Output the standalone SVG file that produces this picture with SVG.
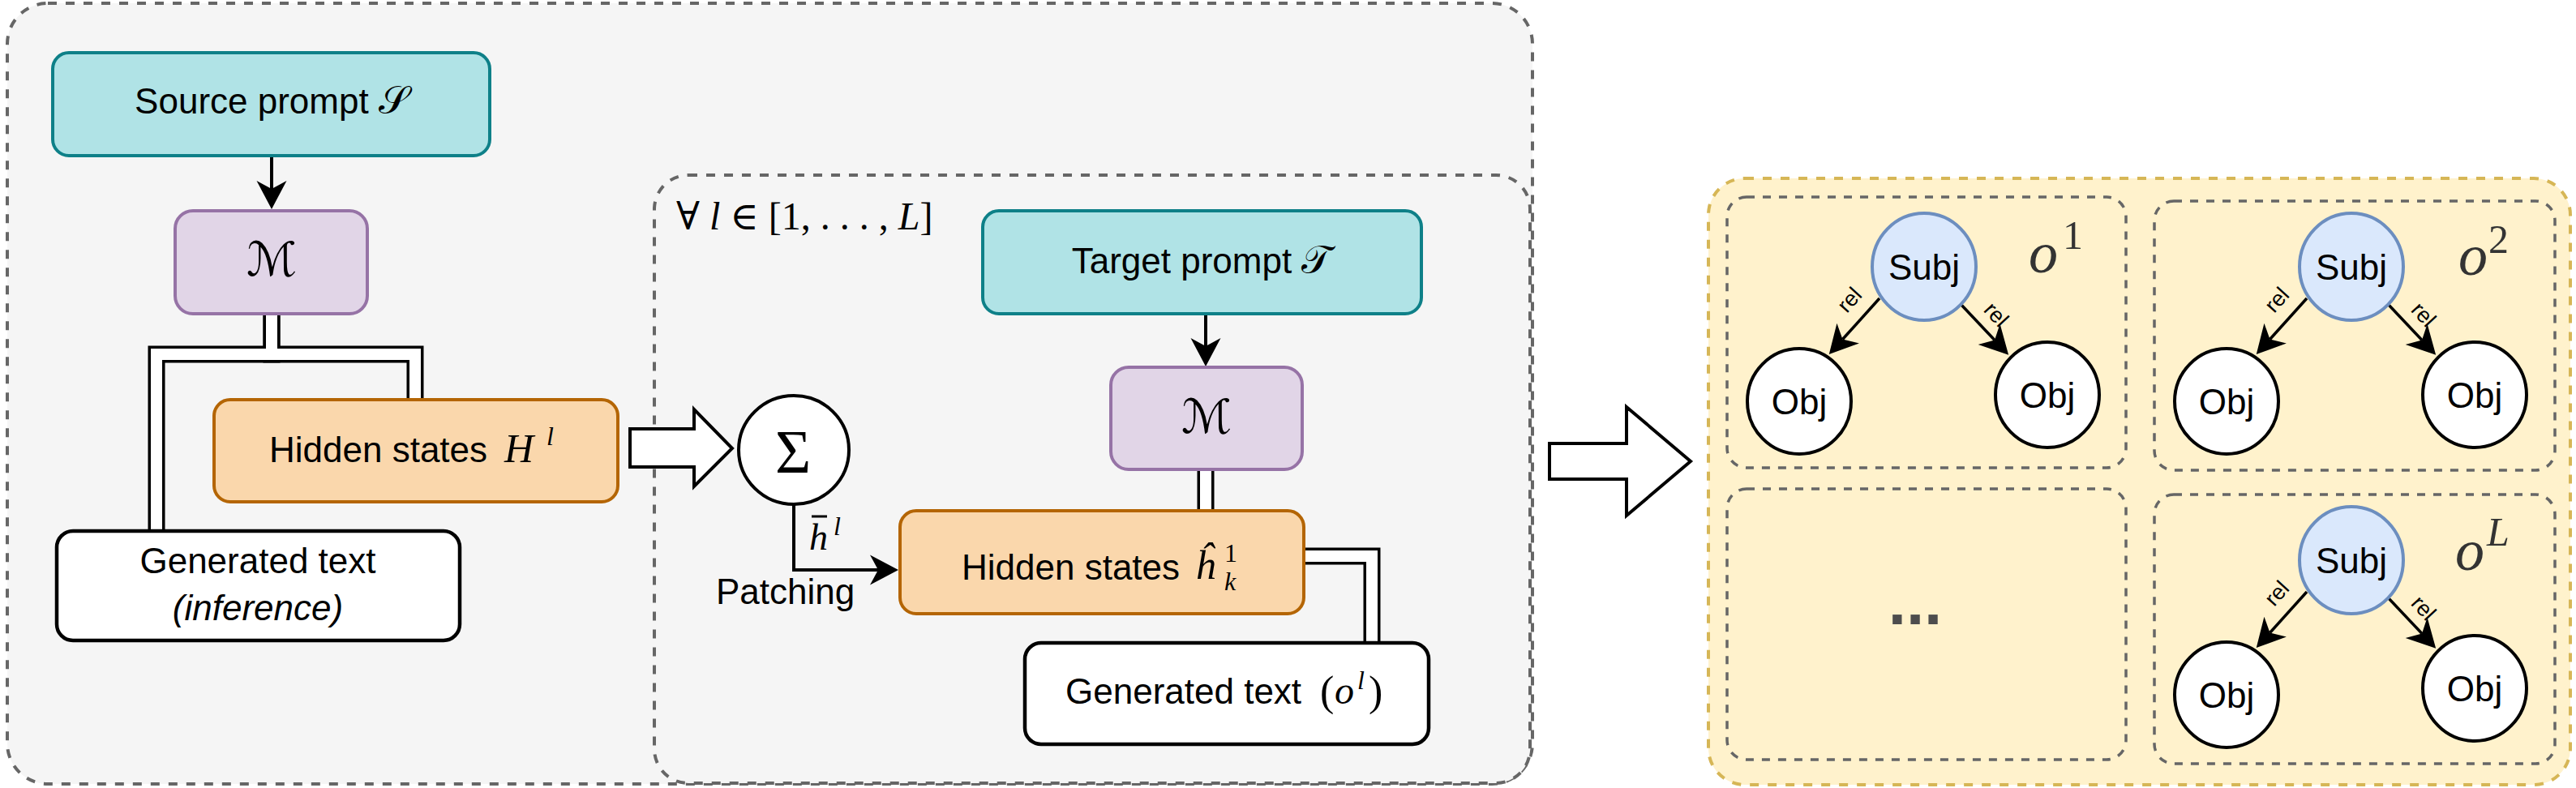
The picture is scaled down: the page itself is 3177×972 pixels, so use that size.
<svg xmlns="http://www.w3.org/2000/svg" width="3177" height="972" viewBox="0 0 3177 972">
<defs>
<style>
.t{font-family:"Liberation Sans",Arial,sans-serif;font-size:44px;fill:#000}
.m{font-family:"Liberation Serif","DejaVu Serif",serif;font-style:italic}
.u{font-family:"Liberation Serif","DejaVu Serif",serif;font-style:normal}
.sym{font-family:"DejaVu Serif",serif;font-style:normal}
.scr{font-family:"DejaVu Serif","DejaVu Sans","Noto Sans",serif;font-style:normal}
.cont{fill:#f5f5f5;stroke:#666666;stroke-width:4;stroke-dasharray:11 11}
.sub{fill:none;stroke:#666666;stroke-width:3.5;stroke-dasharray:10 10}
.prompt{fill:#b0e3e6;stroke:#0e8088;stroke-width:4}
.model{fill:#e1d5e7;stroke:#9673a6;stroke-width:4}
.hid{fill:#fad7ac;stroke:#b46504;stroke-width:4}
.gen{fill:#ffffff;stroke:#000000;stroke-width:4.5}
.subj{fill:#dae8fc;stroke:#6c8ebf;stroke-width:4}
.obj{fill:#ffffff;stroke:#000000;stroke-width:4}
.edge{fill:none;stroke:#000;stroke-width:4;marker-end:url(#arr)}
.linkO{fill:none;stroke:#000;stroke-width:21;stroke-linejoin:miter}
.linkI{fill:none;stroke:#fff;stroke-width:14;stroke-linejoin:miter}
.big{fill:#fff;stroke:#000;stroke-width:4;stroke-linejoin:miter}
.rel{font-family:"Liberation Sans",Arial,sans-serif;font-size:27px;fill:#000}
.o{fill:#333333}
</style>
<marker id="arr" viewBox="-36 -20 38 40" refX="-25" refY="0" markerWidth="38" markerHeight="40" markerUnits="userSpaceOnUse" orient="auto">
<path d="M0,0 L-35,-18.5 L-25,0 L-35,18.5 Z" fill="#000"/>
</marker>
</defs>

<!-- containers -->
<g id="outer-container"><rect class="cont" x="9" y="4" width="1881" height="963" rx="50" ry="50"/></g>
<g id="loop-container">
<rect class="cont" x="807" y="216" width="1080" height="750" rx="42" ry="42"/>
<text class="m" x="834" y="283" font-size="48"><tspan class="sym">∀</tspan><tspan> l </tspan><tspan class="sym">∈</tspan><tspan class="u"> [1, . . . , </tspan><tspan>L</tspan><tspan class="u">]</tspan></text>
</g>
<g id="output-panel">
<rect x="2107" y="220" width="1063" height="748" rx="45" ry="45" fill="#fff2cc" stroke="#d6b656" stroke-width="4" stroke-dasharray="11 11"/>
</g>
<g id="panel-o1"><rect class="sub" x="2130" y="243" width="492" height="334" rx="24" ry="24"/></g>
<g id="panel-o2"><rect class="sub" x="2657" y="248" width="494" height="332" rx="24" ry="24"/></g>
<g id="panel-dots"><rect class="sub" x="2130" y="603" width="492" height="334" rx="24" ry="24"/>
<text x="2362" y="770" text-anchor="middle" font-family="Liberation Sans,Arial,sans-serif" font-weight="bold" font-size="80" fill="#4d4d4d">...</text></g>
<g id="panel-oL"><rect class="sub" x="2657" y="610" width="494" height="332" rx="24" ry="24"/></g>

<!-- connectors -->
<g id="connectors">
<path class="linkO" d="M335,387 V437 H193 V655"/>
<path class="linkO" d="M335,387 V437 H512 V493"/>
<path class="linkO" d="M1487,579 V630"/>
<path class="linkO" d="M1608,686 H1692 V793"/>
<path class="linkI" d="M335,387 V437 H193 V655"/>
<path class="linkI" d="M335,387 V437 H512 V493"/>
<path class="linkI" d="M1487,579 V630"/>
<path class="linkI" d="M1608,686 H1692 V793"/>
<path class="edge" d="M335,192 V233"/>
<path class="edge" d="M1487,387 V427"/>
<path class="edge" d="M979,623 V703 H1083"/>
<polygon class="big" points="777,529 856,529 856,505 903,553 856,600 856,576 777,576"/>
<polygon class="big" points="1911,547 2006,547 2006,502 2085,569 2006,636 2006,591 1911,591"/>
<text class="m" x="998" y="678" font-size="46">h</text>
<line x1="1001" y1="637" x2="1020" y2="637" stroke="#000" stroke-width="3"/>
<text class="m" x="1028" y="660" font-size="32">l</text>
<text class="t" x="883" y="745">Patching</text>
<!-- relation edges -->
<g id="rel-edges-1">
<path class="edge" d="M2318,368 L2272.5,418.5" style="stroke-width:3.5"/>
<path class="edge" d="M2418,375 L2460,419.5" style="stroke-width:3.5"/>
<text class="rel" x="2281" y="379" text-anchor="middle" transform="rotate(-48 2281 370)">rel</text>
<text class="rel" x="2462" y="397" text-anchor="middle" transform="rotate(47 2462 388)">rel</text>
</g>
<g id="rel-edges-2" transform="translate(527,0)">
<path class="edge" d="M2318,368 L2272.5,418.5" style="stroke-width:3.5"/>
<path class="edge" d="M2418,375 L2460,419.5" style="stroke-width:3.5"/>
<text class="rel" x="2281" y="379" text-anchor="middle" transform="rotate(-48 2281 370)">rel</text>
<text class="rel" x="2462" y="397" text-anchor="middle" transform="rotate(47 2462 388)">rel</text>
</g>
<g id="rel-edges-L" transform="translate(527,362)">
<path class="edge" d="M2318,368 L2272.5,418.5" style="stroke-width:3.5"/>
<path class="edge" d="M2418,375 L2460,419.5" style="stroke-width:3.5"/>
<text class="rel" x="2281" y="379" text-anchor="middle" transform="rotate(-48 2281 370)">rel</text>
<text class="rel" x="2462" y="397" text-anchor="middle" transform="rotate(47 2462 388)">rel</text>
</g>
</g>

<!-- nodes -->
<g id="source-prompt">
<rect class="prompt" x="65" y="65" width="539" height="127" rx="20" ry="20"/>
<text class="t" x="335" y="140" text-anchor="middle">Source prompt <tspan class="scr" font-size="48">𝒮</tspan></text>
</g>
<g id="model-1">
<rect class="model" x="216" y="260" width="237" height="127" rx="22" ry="22"/>
<text class="scr" x="335" y="340" text-anchor="middle" font-size="58" font-style="italic">ℳ</text>
</g>
<g id="hidden-states-1">
<rect class="hid" x="264" y="493" width="498" height="126" rx="20" ry="20"/>
<text class="t" x="332" y="570">Hidden states</text>
<text class="m" x="622" y="570" font-size="50">H</text>
<text class="m" x="674" y="549" font-size="32">l</text>
</g>
<g id="generated-text-1">
<rect class="gen" x="70" y="655" width="497" height="135" rx="20" ry="20"/>
<text class="t" x="318" y="707" text-anchor="middle">Generated text</text>
<text class="t" x="318" y="765" text-anchor="middle" font-style="italic">(inference)</text>
</g>
<g id="sum">
<ellipse cx="979" cy="555" rx="68" ry="67" fill="#fff" stroke="#000" stroke-width="4"/>
<text class="u" x="978" y="583" text-anchor="middle" font-size="76">Σ</text>
</g>
<g id="target-prompt">
<rect class="prompt" x="1212" y="260" width="541" height="127" rx="20" ry="20"/>
<text class="t" x="1482" y="337" text-anchor="middle">Target prompt <tspan class="scr" font-size="48">𝒯</tspan></text>
</g>
<g id="model-2">
<rect class="model" x="1370" y="453" width="236" height="126" rx="22" ry="22"/>
<text class="scr" x="1488" y="534" text-anchor="middle" font-size="58" font-style="italic">ℳ</text>
</g>
<g id="hidden-states-2">
<rect class="hid" x="1110" y="630" width="498" height="127" rx="20" ry="20"/>
<text class="t" x="1186" y="715">Hidden states</text>
<text class="m" x="1474" y="714" font-size="50">ĥ</text>
<text class="u" x="1510" y="693" font-size="32">1</text>
<text class="m" x="1510" y="728" font-size="32">k</text>
</g>
<g id="generated-text-2">
<rect class="gen" x="1264" y="793" width="498" height="125" rx="20" ry="20"/>
<text class="t" x="1314" y="868">Generated text</text>
<text class="u" x="1628" y="870" font-size="52">(</text>
<text class="m" x="1646" y="868" font-size="48">o</text>
<text class="m" x="1674" y="850" font-size="32">l</text>
<text class="u" x="1688" y="870" font-size="52">)</text>
</g>

<g id="graph-o1">
<g id="subj-1"><ellipse class="subj" cx="2373" cy="329" rx="64" ry="66"/><text class="t" x="2373" y="345" text-anchor="middle">Subj</text></g>
<g id="obj-1a"><ellipse class="obj" cx="2219" cy="495" rx="64" ry="65"/><text class="t" x="2219" y="511" text-anchor="middle">Obj</text></g>
<g id="obj-1b"><ellipse class="obj" cx="2525" cy="487" rx="64" ry="65"/><text class="t" x="2525" y="503" text-anchor="middle">Obj</text></g>
<g id="label-o1"><text class="m o" x="2502" y="336" font-size="72">o</text><text class="u o" x="2544" y="307" font-size="50">1</text></g>
</g>
<g id="graph-o2" transform="translate(527,0)">
<g id="subj-2"><ellipse class="subj" cx="2373" cy="329" rx="64" ry="66"/><text class="t" x="2373" y="345" text-anchor="middle">Subj</text></g>
<g id="obj-2a"><ellipse class="obj" cx="2219" cy="495" rx="64" ry="65"/><text class="t" x="2219" y="511" text-anchor="middle">Obj</text></g>
<g id="obj-2b"><ellipse class="obj" cx="2525" cy="487" rx="64" ry="65"/><text class="t" x="2525" y="503" text-anchor="middle">Obj</text></g>
<g id="label-o2"><text class="m o" x="2505" y="339" font-size="72">o</text><text class="u o" x="2542" y="312" font-size="50">2</text></g>
</g>
<g id="graph-oL" transform="translate(527,362)">
<g id="subj-L"><ellipse class="subj" cx="2373" cy="329" rx="64" ry="66"/><text class="t" x="2373" y="345" text-anchor="middle">Subj</text></g>
<g id="obj-La"><ellipse class="obj" cx="2219" cy="495" rx="64" ry="65"/><text class="t" x="2219" y="511" text-anchor="middle">Obj</text></g>
<g id="obj-Lb"><ellipse class="obj" cx="2525" cy="487" rx="64" ry="65"/><text class="t" x="2525" y="503" text-anchor="middle">Obj</text></g>
<g id="label-oL"><text class="m o" x="2501" y="341" font-size="72">o</text><text class="m o" x="2540" y="311" font-size="50">L</text></g>
</g>
</svg>
